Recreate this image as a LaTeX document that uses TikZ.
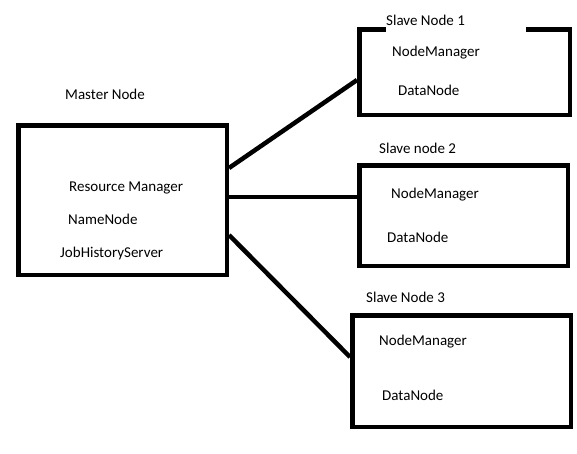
\documentclass[tikz,border=0pt]{standalone}
\usepackage{fontspec}
\setmainfont{Carlito}
\begin{document}
\begin{tikzpicture}[x=1pt,y=-1pt,
  box/.style={draw=black, line width=4.5pt, rectangle, inner sep=0pt, fill=none},
  lbl/.style={anchor=base west, inner sep=0pt, font=\fontsize{15}{18}\selectfont, text=black},
  wire/.style={draw=black, line width=4.5pt}]
\useasboundingbox[fill=white] (0,0) rectangle (577,453);
% boxes
\node[box, minimum width=208.5pt, minimum height=149.5pt] (master) at (122.5,200) {};
\node[box, minimum width=210.5pt, minimum height=85.5pt] (s1) at (464.5,72) {};
\node[box, minimum width=208.5pt, minimum height=100.5pt] (s2) at (463.5,215.5) {};
\node[box, minimum width=218.5pt, minimum height=111.5pt] (s3) at (461.5,371) {};
% gap in the top border of slave 1 under its title
\node[fill=white, inner sep=0pt, anchor=north west, minimum width=140pt, minimum height=8pt] (gap) at (386,25) {};
% titles
\node[lbl] (tm) at (65,99.5) {Master Node};
\node[lbl] (t1) at (386,25.7) {Slave Node 1};
\node[lbl] (t2) at (379,153.3) {Slave node 2};
\node[lbl] (t3) at (366,302.3) {Slave Node 3};
% master contents
\node[lbl] (rm) at (69,191.5) {Resource Manager};
\node[lbl] (nn) at (68,224) {NameNode};
\node[lbl] (jh) at (60,257.5) {JobHistoryServer};
% slave contents
\node[lbl] (nm1) at (392,56) {NodeManager};
\node[lbl] (dn1) at (398,95.7) {DataNode};
\node[lbl] (nm2) at (391,198.7) {NodeManager};
\node[lbl] (dn2) at (387,242.7) {DataNode};
\node[lbl] (nm3) at (379,345.3) {NodeManager};
\node[lbl] (dn3) at (382,400) {DataNode};
% connectors
\draw[wire] ([yshift=32pt]master.east) -- ([yshift=-8pt]s1.west);
\draw[wire] ([yshift=3pt]master.east) -- ([yshift=18.5pt,xshift=5pt]s2.west);
\draw[wire] ([yshift=-35pt]master.east) -- ([yshift=14pt]s3.west);
\end{tikzpicture}
\end{document}
